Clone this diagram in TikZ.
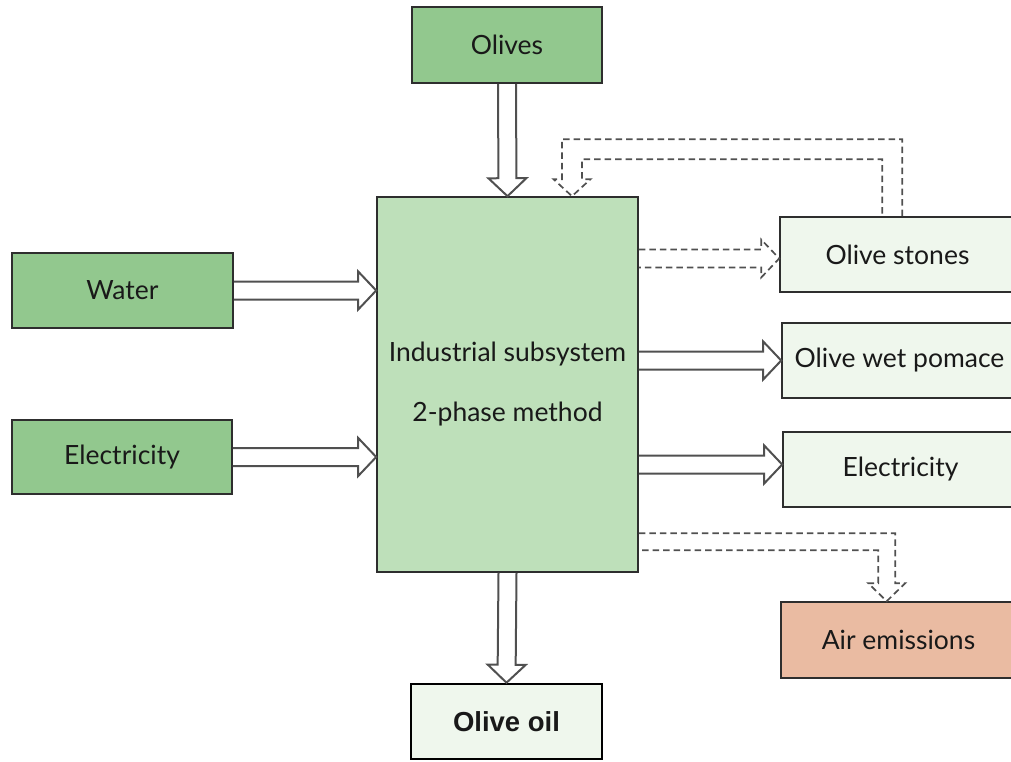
\documentclass[tikz,border=0pt]{standalone}
\usepackage{fontspec}
\setmainfont{Lato}
\newfontfamily\oilfont{Liberation Sans}
\usetikzlibrary{calc}

\definecolor{inputgreen}{HTML}{92C88E}
\definecolor{procgreen}{HTML}{BEE0BA}
\definecolor{outpale}{HTML}{EFF7ED}
\definecolor{emission}{HTML}{EABBA2}
\definecolor{edge}{HTML}{2E2E2E}
\definecolor{flowline}{HTML}{505050}

% Hollow block arrow from #2 to #3 (tail left open)
\newcommand\blockarrow[3][]{%
  \coordinate (ba-h) at ($(#3)!18pt!(#2)$);
  \coordinate (ba-a1) at ($(#2)!9pt!90:(#3)$);
  \coordinate (ba-a2) at ($(#2)!9pt!-90:(#3)$);
  \coordinate (ba-b1) at ($(ba-h)!9pt!90:(#3)$);
  \coordinate (ba-b2) at ($(ba-h)!9pt!-90:(#3)$);
  \coordinate (ba-c1) at ($(ba-h)!19pt!90:(#3)$);
  \coordinate (ba-c2) at ($(ba-h)!19pt!-90:(#3)$);
  \draw[#1] (ba-a1) -- (ba-b1) -- (ba-c1) -- (#3) -- (ba-c2) -- (ba-b2) -- (ba-a2);
}

\tikzset{
  box/.style={draw=edge, line width=1.6pt, inner sep=0pt,
    font=\fontsize{26.5}{30}\selectfont, text=black!90},
  inbox/.style={box, fill=inputgreen},
  outbox/.style={box, fill=outpale, minimum width=235, minimum height=75},
  flowsolid/.style={draw=flowline, line width=2pt, line join=miter},
  flowdash/.style={draw=flowline, line width=1.7pt, dash pattern=on 6.5pt off 4pt},
}

\begin{document}
\begin{tikzpicture}[x=1pt, y=-1pt]
\useasboundingbox (0,0) rectangle (1011,762);
\clip (0,0) rectangle (1011,762);

% input boxes
\node[inbox, minimum width=190, minimum height=76] (olives) at (507,45) {Olives};
\node[inbox, minimum width=221, minimum height=75] (water) at (122.5,290.5) {Water};
\node[inbox, minimum width=220, minimum height=74] (elecin) at (122,457) {Electricity};

% process box
\node[box, fill=procgreen, minimum width=261, minimum height=375, align=center]
  (main) at (507.5,384.5) {Industrial subsystem\\[30pt]2-phase method};

% output boxes
\node[outbox] (stones) at (897.5,254.5) {Olive stones};
\node[outbox] (pomace) at (899.5,360.5) {Olive wet pomace};
\node[outbox] (elecout) at (900.5,469.5) {Electricity};
\node[outbox, fill=emission, minimum height=76] (air) at (898.5,640) {Air emissions};
\node[box, draw=black, line width=2.6pt, fill=outpale, minimum width=191, minimum height=75,
  font=\oilfont\bfseries\fontsize{27.5}{30}\selectfont] (oil) at (506.5,721.5) {Olive oil};

% material and energy flows
\blockarrow[flowsolid]{olives.south}{main.north}
\coordinate (waterin) at (main.west |- water.east);
\blockarrow[flowsolid]{water.east}{waterin}
\coordinate (elecinto) at (main.west |- elecin.east);
\blockarrow[flowsolid]{elecin.east}{elecinto}
\coordinate (pomfrom) at (main.east |- pomace.west);
\blockarrow[flowsolid]{pomfrom}{pomace.west}
\coordinate (electo) at ($(elecout.west)+(0,-5)$);
\coordinate (elecfrom) at (main.east |- electo);
\blockarrow[flowsolid]{elecfrom}{electo}
\blockarrow[flowsolid]{main.south}{oil.north}

% olive stones output
\coordinate (stto) at ($(stones.west)+(0,4)$);
\coordinate (stfrom) at (main.east |- stto);
\blockarrow[flowdash]{stfrom}{stto}

% olive stones fed back to the process
\coordinate (fbtip) at ($(main.north)+(64.5,0)$);
\coordinate (fbout) at ($(stones.north west)+(123,0)$);
\coordinate (fbin) at ($(stones.north west)+(103,0)$);
\draw[flowdash] (fbout) |- ($(fbtip)+(-10,-57)$) -- ($(fbtip)+(-10,-17)$)
  -- ($(fbtip)+(-18.5,-17)$) -- (fbtip) -- ($(fbtip)+(18.5,-17)$)
  -- ($(fbtip)+(10,-17)$) -- ($(fbtip)+(10,-37)$) -| (fbin);

% air emissions
\coordinate (airtip) at ($(air.north west)+(106.5,0)$);
\coordinate (airo) at ($(airtip)+(8.5,-68)$);
\coordinate (airi) at ($(airtip)+(-8.5,-51)$);
\draw[flowdash] (main.east |- airo) -- (airo) -- ($(airtip)+(8.5,-18)$)
  -- ($(airtip)+(18.5,-18)$) -- (airtip) -- ($(airtip)+(-18.5,-18)$)
  -- ($(airtip)+(-8.5,-18)$) -- (airi) -- (main.east |- airi);
\end{tikzpicture}
\end{document}
